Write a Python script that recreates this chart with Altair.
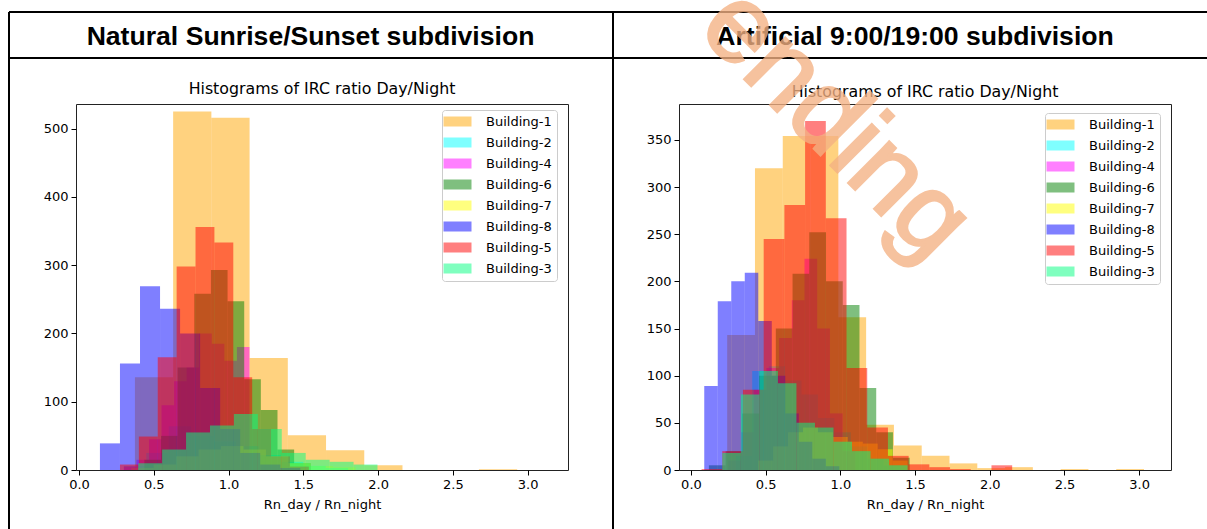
import altair as alt
import pandas as pd

BUILDINGS = ["Building-1", "Building-2", "Building-4", "Building-6",
             "Building-7", "Building-8", "Building-5", "Building-3"]
COLORS = ["#FFA500", "#00FFFF", "#FF00FF", "#008000",
          "#FFFF00", "#0000FF", "#FF0000", "#00FF7F"]

# ---- Natural Sunrise/Sunset subdivision: first bin edge, bin width, counts
nat_start = {"Building-1": 0.374, "Building-2": 0.30, "Building-4": 0.30, "Building-6": 0.437,
             "Building-7": 0.35, "Building-8": 0.14, "Building-5": 0.274, "Building-3": 0.396}
nat_width = {"Building-1": 0.2556, "Building-2": 0.15, "Building-4": 0.084, "Building-6": 0.1113,
             "Building-7": 0.15, "Building-8": 0.134, "Building-5": 0.1263, "Building-3": 0.16}
nat_counts = {
    "Building-1": [136, 525, 516, 164, 51, 29, 7, 0, 0, 1],
    "Building-2": [6, 25, 64, 50, 42, 35, 22, 12, 6, 3],
    "Building-4": [5, 15, 45, 95, 130, 150, 200, 185, 160, 180],
    "Building-6": [15, 50, 150, 258, 293, 247, 133, 88, 30, 10],
    "Building-7": [3, 8, 20, 30, 35, 30, 20, 10, 6, 4],
    "Building-8": [39, 156, 269, 236, 200, 120, 60, 25, 8, 3],
    "Building-5": [8, 49, 165, 298, 356, 333, 136, 60, 20, 5],
    "Building-3": [10, 30, 55, 65, 82, 60, 25, 15, 12, 8],
}

# ---- Artificial 9:00/19:00 subdivision
art_start = {"Building-1": 0.2425, "Building-2": 0.30, "Building-4": 0.25, "Building-6": 0.12,
             "Building-7": 0.45, "Building-8": 0.089, "Building-5": 0.071, "Building-3": 0.21}
art_width = {"Building-1": 0.186, "Building-2": 0.11, "Building-4": 0.085, "Building-6": 0.112,
             "Building-7": 0.10, "Building-8": 0.0904, "Building-5": 0.1386, "Building-3": 0.124}
art_counts = {
    "Building-1": [143, 320, 354, 354, 162, 48, 26, 15, 7, 2, 3, 0, 1, 0, 1],
    "Building-2": [15, 105, 110, 95, 80, 55, 40, 25, 12, 5],
    "Building-4": [10, 40, 85, 108, 140, 180, 224, 150, 60, 20],
    "Building-6": [5, 20, 60, 100, 150, 208, 252, 200, 175, 87, 40, 13],
    "Building-7": [10, 25, 40, 45, 40, 35, 30, 28, 22, 10],
    "Building-8": [89, 179, 200, 209, 158, 100, 60, 30, 12, 4],
    "Building-5": [1, 20, 85, 245, 281, 370, 267, 108, 45, 15, 6, 3, 1, 0, 5],
    "Building-3": [18, 80, 105, 92, 50, 45, 30, 20, 12, 5],
}

X_TICKS = [0.0, 0.5, 1.0, 1.5, 2.0, 2.5, 3.0]
NAT_Y_TICKS = [0, 100, 200, 300, 400, 500]
ART_Y_TICKS = [0, 50, 100, 150, 200, 250, 300, 350]
HEADERS = ["Natural Sunrise/Sunset subdivision", "Artificial 9:00/19:00 subdivision"]
SUBTITLE = "Histograms of IRC ratio Day/Night"
XLABEL = "Rn_day / Rn_night"
WATERMARK = "Pending"


def to_frame(start, width, counts):
    rows = []
    for i, b in enumerate(BUILDINGS):
        for k, c in enumerate(counts[b]):
            if c > 0:
                rows.append({"building": b, "idx": i,
                             "x0": start[b] + k * width[b],
                             "x1": start[b] + (k + 1) * width[b],
                             "count": c})
    return pd.DataFrame(rows)


one = pd.DataFrame({"a": [0]})


def hist_layer(df, xdom, ydom, yticks, lx, ly):
    return alt.Chart(df).mark_rect(fillOpacity=0.5, strokeWidth=0).encode(
        x=alt.X("x0:Q", scale=alt.Scale(domain=xdom, nice=False, zero=False),
                axis=alt.Axis(values=X_TICKS, format=".1f", title=XLABEL)),
        x2="x1:Q",
        y=alt.Y("count:Q", scale=alt.Scale(domain=ydom, nice=False),
                axis=alt.Axis(values=yticks, format="d", title=None)),
        y2=alt.datum(0),
        color=alt.Color("building:N",
                        scale=alt.Scale(domain=BUILDINGS, range=COLORS),
                        legend=alt.Legend(
                            orient="none", legendX=lx, legendY=ly, title=None,
                            symbolType="M-2.8,-1H2.8V1H-2.8Z",
                            symbolSize=100, symbolOpacity=0.5, symbolStrokeWidth=0,
                            labelFont="DejaVu Sans", labelFontSize=13, labelColor="black",
                            fillColor="rgba(255,255,255,0.8)", strokeColor="#cccccc",
                            cornerRadius=3, padding=5, rowPadding=7,
                            symbolOffset=4, labelOffset=22)),
    )


def hline(x1, x2, y):
    return alt.Chart(one).mark_rule(color="black", strokeWidth=2).encode(
        x=alt.value(x1), x2=alt.value(x2), y=alt.value(y))


def vline(x, y1, y2):
    return alt.Chart(one).mark_rule(color="black", strokeWidth=2).encode(
        x=alt.value(x), y=alt.value(y1), y2=alt.value(y2))


def text_at(text, x, y, size, font, weight="normal"):
    return alt.Chart(pd.DataFrame({"t": [text]})).mark_text(
        font=font, fontWeight=weight, fontSize=size, color="black",
        align="center", baseline="alphabetic").encode(
        x=alt.value(x), y=alt.value(y), text="t:N")


W, H = 492, 366

left = alt.layer(
    hline(-67, 1131, -92), hline(-67, 1131, -46),
    vline(-67, -92, 425), vline(537, -92, 425),
    text_at(HEADERS[0], 234.5, -59.5, 26.6, "Liberation Sans", "bold"),
    text_at(SUBTITLE, 246, -10.5, 15.8, "DejaVu Sans"),
    hist_layer(to_frame(nat_start, nat_width, nat_counts), [-0.02, 3.27], [0, 536],
               NAT_Y_TICKS, 366, 6),
).properties(width=W, height=H)

wm = alt.Chart(pd.DataFrame({"t": [WATERMARK]})).mark_text(
    font="Liberation Sans", fontSize=110, color="#F4B183", opacity=0.78,
    stroke="#F4B183", strokeWidth=2.5,
    angle=45, align="center", baseline="middle").encode(
    x=alt.value(131), y=alt.value(-6), text="t:N")

right = alt.layer(
    text_at(HEADERS[1], 236, -59.5, 26.6, "Liberation Sans", "bold"),
    text_at(SUBTITLE, 246, -7.5, 15.8, "DejaVu Sans"),
    hist_layer(to_frame(art_start, art_width, art_counts), [-0.08, 3.213], [0, 388],
               ART_Y_TICKS, 366, 9),
    wm,
).properties(width=W, height=H)

chart = alt.hconcat(left, right, spacing=111, bounds="flush").resolve_scale(
    color="independent").resolve_legend(color="independent").properties(
    autosize=alt.AutoSizeParams(type="none"),
    padding={"left": 76, "top": 104, "right": 1131, "bottom": 425},
    background="white",
).configure_view(stroke="#222222", strokeWidth=1).configure_axis(
    domain=False, labelFont="DejaVu Sans", labelFontSize=13, labelColor="black",
    tickColor="black", tickSize=5, labelPadding=3, grid=False,
    titleFont="DejaVu Sans", titleFontSize=13, titleFontWeight="normal",
    titleColor="black", titlePadding=7,
)

chart.save("out.html", embed_options={"renderer": "svg", "actions": False})
